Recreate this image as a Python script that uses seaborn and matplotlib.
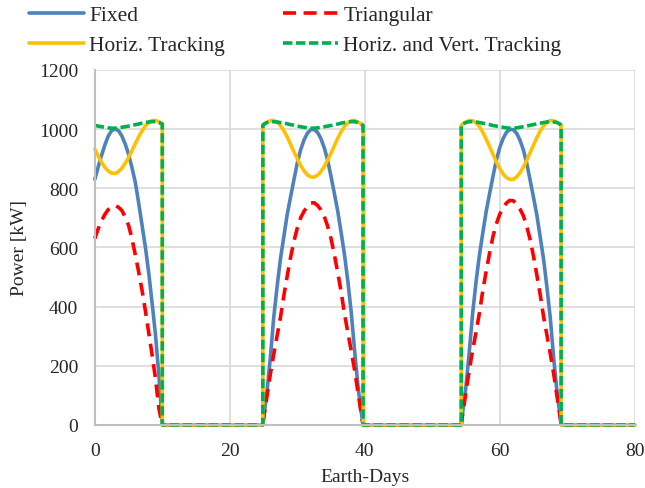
import numpy as np
import pandas as pd
import matplotlib
matplotlib.use("Agg")
import matplotlib.pyplot as plt
import seaborn as sns

# Earth-days (a repeated x gives the vertical jump at sunrise / sunset)
days = [0, 0.5, 1, 1.5, 2, 2.5, 3, 3.5, 4, 4.5, 5, 5.5, 6, 6.5, 7, 7.5, 8, 8.5, 9, 9.5, 10, 10,
        24.9, 24.9, 25, 25.5, 26, 26.5, 27, 27.5, 28, 28.5, 29, 29.5, 30, 30.5, 31, 31.5, 32, 32.5,
        33, 33.5, 34, 34.5, 35, 35.5, 36, 36.5, 37, 37.5, 38, 38.5, 39, 39.5, 39.75, 39.75,
        54.3, 54.3, 54.5, 55, 55.5, 56, 56.5, 57, 57.5, 58, 58.5, 59, 59.5, 60, 60.5, 61, 61.5, 62,
        62.5, 63, 63.5, 64, 64.5, 65, 65.5, 66, 66.5, 67, 67.5, 68, 68.5, 69, 69.1, 69.1,
        80]

fixed = [830, 872, 911, 947, 977, 995, 1000, 995, 977, 950, 915, 870, 820, 750, 675, 600, 512, 410, 303, 165, 5, 0,
         0, 0, 20, 110, 225, 360, 465, 560, 635, 710, 770, 828, 885, 930, 963, 986, 998, 999,
         989, 968, 937, 895, 840, 782, 722, 650, 575, 485, 380, 250, 130, 40, 0, 0,
         0, 0, 40, 130, 250, 380, 485, 575, 650, 722, 782, 840, 895, 937, 968, 989, 999, 998,
         986, 963, 930, 885, 828, 770, 710, 635, 560, 465, 360, 225, 110, 20, 0, 0,
         0]

triangular = [630, 663, 690, 712, 728, 737, 741, 736, 725, 703, 675, 630, 575, 517, 455, 385, 310, 235, 155, 55, 0, 0,
              0, 0, 20, 95, 170, 237, 300, 362, 435, 502, 565, 620, 665, 700, 722, 739, 750, 751,
              742, 727, 705, 672, 630, 575, 515, 450, 375, 312, 250, 185, 110, 35, 0, 0,
              0, 0, 35, 111, 187, 253, 315, 379, 455, 520, 581, 637, 679, 712, 735, 750, 759, 758,
              747, 730, 707, 672, 627, 571, 507, 440, 366, 303, 240, 172, 96, 20, 0, 0,
              0]

horiz = [932, 909, 888, 870, 858, 851, 850, 856, 867, 884, 904, 927, 951, 974, 994, 1011, 1023, 1029, 1029, 1025, 1018, 0,
         0, 1012, 1015, 1023, 1028, 1029, 1023, 1012, 995, 974, 949, 924, 900, 877, 859, 845, 838, 838,
         844, 856, 873, 895, 919, 944, 969, 991, 1009, 1021, 1028, 1029, 1024, 1017, 1012, 0,
         0, 1012, 1017, 1024, 1029, 1028, 1021, 1008, 989, 966, 941, 915, 889, 867, 848, 836, 830, 830,
         838, 852, 871, 894, 920, 946, 971, 993, 1011, 1023, 1029, 1028, 1023, 1015, 1012, 0,
         0]

horiz_vert = [1013, 1010, 1008, 1006, 1004, 1003, 1003, 1004, 1006, 1008, 1010, 1012, 1015, 1017, 1020, 1022, 1024, 1025, 1025, 1022, 1017, 0,
              0, 1012, 1016, 1022, 1024, 1025, 1024, 1022, 1020, 1018, 1015, 1013, 1010, 1008, 1006, 1004, 1003, 1003,
              1004, 1006, 1008, 1010, 1012, 1015, 1017, 1020, 1022, 1024, 1025, 1025, 1022, 1017, 1012, 0,
              0, 1012, 1017, 1022, 1025, 1025, 1024, 1022, 1020, 1017, 1015, 1012, 1010, 1008, 1006, 1004, 1003, 1003,
              1004, 1006, 1008, 1010, 1013, 1015, 1018, 1020, 1022, 1024, 1025, 1024, 1022, 1016, 1012, 0,
              0]

series = [
    ("Fixed", fixed, "#4F81BD", "-"),
    ("Triangular", triangular, "#FF0000", (0, (3.6, 2.1))),
    ("Horiz. Tracking", horiz, "#FFC000", "-"),
    ("Horiz. and Vert. Tracking", horiz_vert, "#00B050", (0, (2.6, 1.0))),
]

sns.set_style("white")
plt.rcParams['font.family'] = ['Liberation Serif', 'DejaVu Serif']

fig, ax = plt.subplots(figsize=(6.45, 4.89), dpi=100)
fig.subplots_adjust(left=0.147, right=0.984, top=0.855, bottom=0.129)

for name, vals, col, ls in series:
    sns.lineplot(x=days, y=vals, ax=ax, color=col, linestyle=ls, linewidth=2.6,
                 estimator=None, sort=False, label=name, clip_on=False)

ax.set_xlim(0, 80)
ax.set_ylim(0, 1200)
ax.set_xticks(np.arange(0, 81, 20))
ax.set_yticks(np.arange(0, 1201, 200))
ax.grid(True, color="#D9D9D9", linewidth=1.2)
ax.set_axisbelow(True)
for s in ["top", "right"]:
    ax.spines[s].set_visible(False)
for s in ["left", "bottom"]:
    ax.spines[s].set_color("#BFBFBF")
    ax.spines[s].set_linewidth(1.5)
ax.tick_params(length=0, labelsize=14)
ax.tick_params(axis="x", pad=12)
ax.tick_params(axis="y", pad=12)
ax.set_xlabel("Earth-Days", fontsize=14, labelpad=7)
ax.set_ylabel("Power [kW]", fontsize=14, labelpad=8)

# legend filled row by row, like the original
handles, labels = ax.get_legend_handles_labels()
ax.get_legend().remove()
order = [0, 2, 1, 3]
fig.legend([handles[i] for i in order], [labels[i] for i in order], ncol=2,
           loc="upper left", bbox_to_anchor=(0.045, 0.987), borderpad=0, borderaxespad=0,
           frameon=False, fontsize=15.5, handlelength=2.55, handletextpad=0.25,
           columnspacing=2.7, labelspacing=0.45)

fig.savefig("out.png", dpi=100)
